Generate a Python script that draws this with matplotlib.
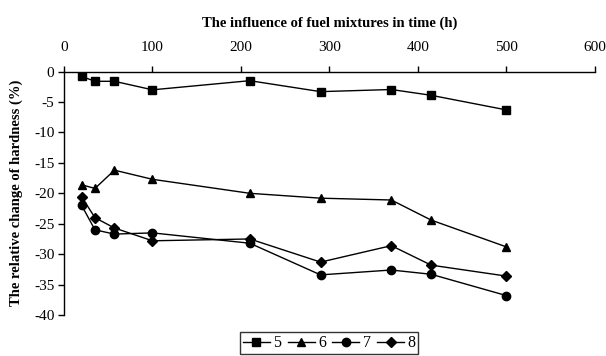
import matplotlib
matplotlib.use("Agg")
import matplotlib.pyplot as plt

plt.rcParams['font.family'] = ['Liberation Serif', 'DejaVu Serif']
plt.rcParams['axes.unicode_minus'] = False

time_h = [20, 35, 57, 100, 210, 290, 370, 415, 500]
s5 = [-0.8, -1.6, -1.6, -3.0, -1.5, -3.3, -2.95, -3.9, -6.3]
s6 = [-18.6, -19.2, -16.2, -17.7, -20.0, -20.8, -21.1, -24.4, -28.8]
s7 = [-22.0, -26.0, -26.7, -26.5, -28.2, -33.4, -32.6, -33.3, -36.8]
s8 = [-20.6, -24.0, -25.7, -27.8, -27.5, -31.3, -28.6, -31.8, -33.6]
series = [("5", s5, "s"), ("6", s6, "^"), ("7", s7, "o"), ("8", s8, "D")]
xticks = [0, 100, 200, 300, 400, 500, 600]
yticks = [0, -5, -10, -15, -20, -25, -30, -35, -40]

fig = plt.figure(figsize=(6.06, 3.56), dpi=100)
ax = fig.add_axes([0.1056, 0.115, 0.876, 0.684])

sizes = {"s": 6.0, "^": 6.0, "o": 6.0, "D": 5.2}
for name, vals, mk in series:
    ax.plot(time_h, vals, color='black', lw=1.0, marker=mk,
            markersize=sizes[mk], markerfacecolor='black',
            markeredgecolor='black', label=name)

ax.set_xlim(0, 600)
ax.set_ylim(-40, 0)
ax.set_xticks(xticks)
ax.set_yticks(yticks)
ax.set_yticklabels([str(v) for v in yticks])
ax.xaxis.tick_top()
ax.xaxis.set_label_position('top')
ax.spines['right'].set_visible(False)
ax.spines['bottom'].set_visible(False)
ax.spines['top'].set_position(('data', 0))
for sp in ['left', 'top']:
    ax.spines[sp].set_linewidth(1.0)
ax.tick_params(axis='both', direction='out', length=4, width=1.0,
               labelsize=11, colors='black')
ax.tick_params(axis='x', pad=8.5)
ax.tick_params(axis='y', pad=3)

ax.set_xlabel('The influence of fuel mixtures in time (h)', fontsize=10.5,
              fontweight='bold', labelpad=10)
ax.set_ylabel('The relative change of hardness (%)', fontsize=10.5,
              fontweight='bold', labelpad=8)

leg = fig.legend(loc='upper center', bbox_to_anchor=(0.543, 0.0674),
                 ncol=4, frameon=True, fancybox=False, fontsize=11.5,
                 handlelength=1.7, handletextpad=0.2, columnspacing=0.4,
                 borderpad=0.2, borderaxespad=0)
leg.get_frame().set_edgecolor('black')
leg.get_frame().set_linewidth(1.0)

fig.savefig('out.png', dpi=100)
